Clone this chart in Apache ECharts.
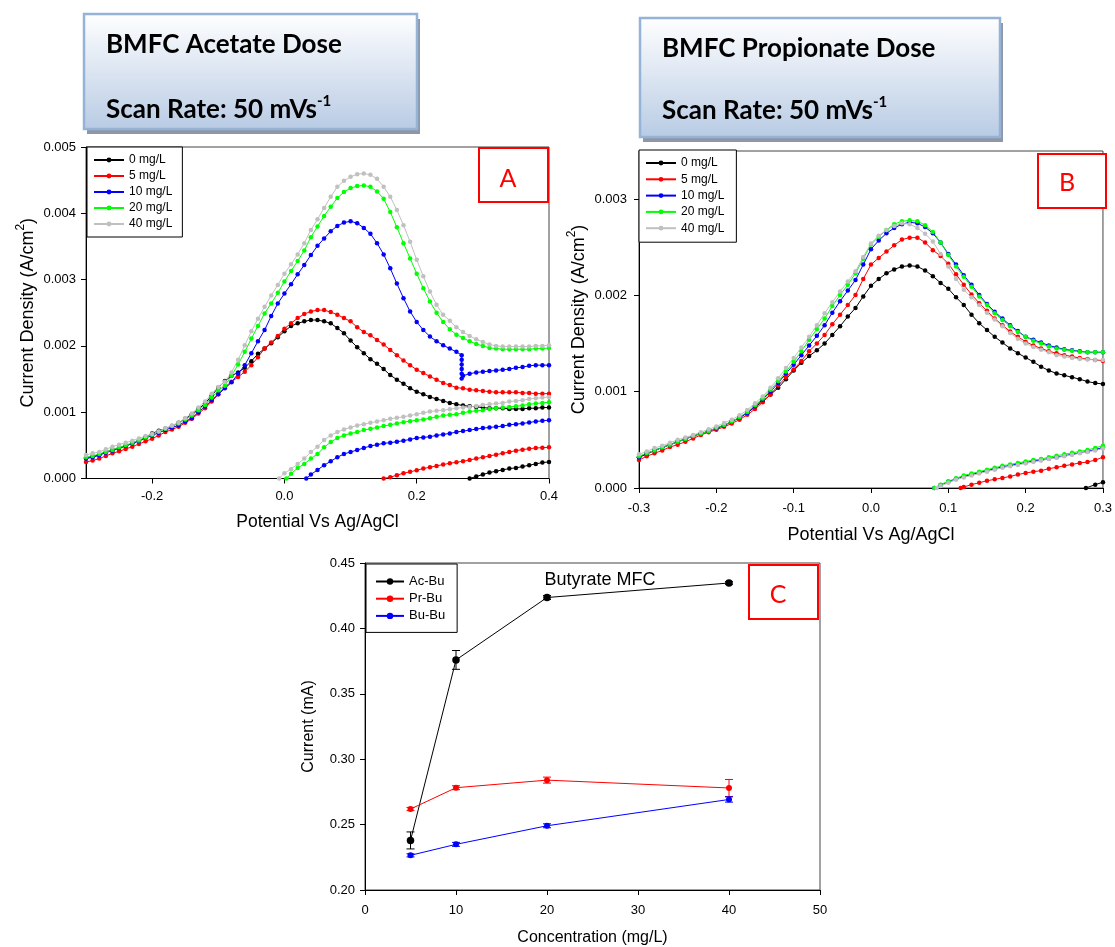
<!DOCTYPE html>
<html>
<head>
<meta charset="utf-8">
<script src="https://cdn.jsdelivr.net/npm/echarts@6/dist/echarts.min.js"></script>
<style>
  html, body { margin: 0; padding: 0; background: #fff; }
  #main { width: 1115px; height: 947px; }
</style>
</head>
<body>
<div id="main"></div>
<script>
// ---------------- Panel A: BMFC acetate dose, forward / reverse sweeps (A/cm2 vs V) ----------------
const potentialA = [
  -0.30,-0.29,-0.28,-0.27,-0.26,-0.25,-0.24,-0.23,-0.22,-0.21,
  -0.20,-0.19,-0.18,-0.17,-0.16,-0.15,-0.14,-0.13,-0.12,-0.11,
  -0.10,-0.09,-0.08,-0.07,-0.06,-0.05,-0.04,-0.03,-0.02,-0.01,
  0.00,0.01,0.02,0.03,0.04,0.05,0.06,0.07,0.08,0.09,
  0.10,0.11,0.12,0.13,0.14,0.15,0.16,0.17,0.18,0.19,
  0.20,0.21,0.22,0.23,0.24,0.25,0.26,0.27,0.28,0.29,
  0.30,0.31,0.32,0.33,0.34,0.35,0.36,0.37,0.38,0.39,
  0.40
];
const fwdA0 = [
  0.00031,0.00033,0.00036,0.00040,0.00043,0.00046,0.00049,0.00053,0.00057,0.00062,
  0.00068,0.00072,0.00075,0.00079,0.00084,0.00090,0.00097,0.00105,0.00113,0.00125,
  0.00137,0.00147,0.00155,0.00160,0.00167,0.00177,0.00188,0.00196,0.00204,0.00213,
  0.00222,0.00230,0.00234,0.00237,0.00239,0.00239,0.00237,0.00234,0.00227,0.00219,
  0.00208,0.00198,0.00189,0.00180,0.00173,0.00165,0.00156,0.00149,0.00143,0.00136,
  0.00131,0.00127,0.00123,0.00120,0.00117,0.00114,0.00112,0.00110,0.00109,0.00108,
  0.00107,0.00106,0.00106,0.00106,0.00105,0.00105,0.00105,0.00106,0.00106,0.00107,
  0.00107
];
const fwdA5 = [
  0.00025,0.00027,0.00030,0.00034,0.00038,0.00041,0.000445,0.00048,0.00052,0.00056,
  0.00060,0.00065,0.00070,0.00074,0.00078,0.00084,0.00090,0.00098,0.00106,0.00116,
  0.00127,0.00138,0.00146,0.00153,0.00161,0.00171,0.00183,0.00196,0.00205,0.00215,
  0.00226,0.00234,0.00242,0.00248,0.00252,0.00254,0.00254,0.00251,0.00247,0.00242,
  0.00237,0.00228,0.00221,0.00216,0.00209,0.00202,0.00194,0.00186,0.00178,0.00171,
  0.00164,0.00159,0.00154,0.00149,0.00144,0.00141,0.00137,0.00136,0.00134,0.00133,
  0.00132,0.00131,0.00130,0.00130,0.00130,0.00130,0.00129,0.00129,0.00128,0.00128,
  0.00128
];
const fwdA10 = [
  0.00030,0.00032,0.00035,0.00039,0.00042,0.00046,0.00049,0.00053,0.000565,0.00061,
  0.00065,0.00069,0.00073,0.00077,0.00080,0.00086,0.00091,0.00100,0.001085,0.00118,
  0.00127,0.00136,0.00145,0.00158,0.00171,0.00189,0.00207,0.00224,0.00245,0.00264,
  0.00279,0.00293,0.00308,0.00322,0.00337,0.00351,0.00362,0.00373,0.00381,0.00386,
  0.00388,0.00385,0.00378,0.00369,0.00355,0.00338,0.00317,0.00294,0.00272,0.00252,
  0.00236,0.00224,0.00214,0.00207,0.00201,0.00196,0.00191,0.00155,0.00158,0.00160,
  0.00161,0.00162,0.00163,0.00164,0.00165,0.00167,0.00168,0.00170,0.00171,0.00171,
  0.00171
];
// sudden drop of the 10 mg/L scan near 0.268 V
const stepA10 = [[0.268,0.00186],[0.268,0.00179],[0.268,0.00172],[0.268,0.00165],[0.268,0.00158],[0.268,0.00151]];
const fwdA20 = [
  0.00032,0.00034,0.00037,0.00040,0.00043,0.00047,0.00050,0.00054,0.000575,0.00062,
  0.00066,0.00071,0.00075,0.00079,0.00083,0.00089,0.00095,0.00103,0.00111,0.00122,
  0.00133,0.00140,0.00155,0.00172,0.00191,0.00211,0.00230,0.00249,0.00264,0.00280,
  0.00297,0.00313,0.00328,0.00344,0.00364,0.00380,0.00396,0.00410,0.00423,0.00432,
  0.00438,0.00441,0.00442,0.00440,0.00433,0.00422,0.00402,0.00379,0.00355,0.00332,
  0.00309,0.00287,0.00267,0.00250,0.00236,0.00225,0.00217,0.00212,0.00207,0.00203,
  0.00200,0.00197,0.00196,0.00195,0.00195,0.00195,0.00195,0.00195,0.00196,0.00196,
  0.00197
];
const fwdA40 = [
  0.000355,0.00038,0.00040,0.00044,0.00048,0.00051,0.00054,0.00057,0.000605,0.00064,
  0.00067,0.00071,0.000757,0.00080,0.00084,0.00091,0.00098,0.00107,0.00116,0.00128,
  0.00138,0.00146,0.00160,0.00179,0.00201,0.00222,0.00241,0.00259,0.00276,0.00292,
  0.00309,0.00323,0.00338,0.00355,0.00375,0.00391,0.00408,0.00425,0.00440,0.00449,
  0.00455,0.00459,0.00460,0.00458,0.00452,0.00440,0.00425,0.00405,0.00382,0.00357,
  0.00330,0.00305,0.00282,0.00262,0.00247,0.00238,0.00228,0.00221,0.00215,0.00210,
  0.00206,0.00202,0.00200,0.00199,0.00199,0.00199,0.00199,0.00199,0.00200,0.00200,
  0.00201
];
// reverse sweeps, [potential, current density], from 0.4 V back to where they leave the axis
const revA0 = [[0.40,0.00025],[0.39,0.00024],[0.38,0.00022],[0.37,0.00020],[0.36,0.00018],[0.35,0.00016],[0.34,0.00015],[0.33,0.00013],[0.32,0.00011],[0.31,0.00009],[0.30,0.00006],[0.29,0.00003],[0.28,0]];
const revA5 = [[0.40,0.00047],[0.39,0.000465],[0.38,0.00046],[0.37,0.00045],[0.36,0.000435],[0.35,0.00042],[0.34,0.00040],[0.33,0.00038],[0.32,0.00036],[0.31,0.00034],[0.30,0.00032],[0.29,0.00030],[0.28,0.00028],[0.27,0.00026],[0.26,0.000245],[0.25,0.00023],[0.24,0.00021],[0.23,0.00019],[0.22,0.00017],[0.21,0.00015],[0.20,0.000125],[0.19,0.00010],[0.18,0.00008],[0.17,0.00005],[0.16,0.00002],[0.15,0]];
const revA10 = [[0.40,0.00088],[0.39,0.00087],[0.38,0.00086],[0.37,0.000845],[0.36,0.00083],[0.35,0.00082],[0.34,0.00081],[0.33,0.00079],[0.32,0.00078],[0.31,0.00077],[0.30,0.00076],[0.29,0.000745],[0.28,0.00073],[0.27,0.000715],[0.26,0.00070],[0.25,0.00068],[0.24,0.000665],[0.23,0.00065],[0.22,0.00063],[0.21,0.00062],[0.20,0.00061],[0.19,0.00059],[0.18,0.00057],[0.17,0.000555],[0.16,0.00054],[0.15,0.00053],[0.14,0.00051],[0.13,0.00049],[0.12,0.00046],[0.11,0.00043],[0.10,0.00040],[0.09,0.00037],[0.08,0.00032],[0.07,0.00026],[0.06,0.00020],[0.05,0.00013],[0.04,0.00006],[0.033,0]];
const revA20 = [[0.40,0.00115],[0.39,0.00114],[0.38,0.00113],[0.37,0.00112],[0.36,0.00110],[0.35,0.00109],[0.34,0.00108],[0.33,0.00107],[0.32,0.00106],[0.31,0.00105],[0.30,0.00103],[0.29,0.00102],[0.28,0.00101],[0.27,0.00099],[0.26,0.00097],[0.25,0.00096],[0.24,0.00095],[0.23,0.00093],[0.22,0.00091],[0.21,0.00089],[0.20,0.00088],[0.19,0.000865],[0.18,0.00085],[0.17,0.00083],[0.16,0.00081],[0.15,0.00079],[0.14,0.00077],[0.13,0.00075],[0.12,0.00073],[0.11,0.00070],[0.10,0.00068],[0.09,0.00065],[0.08,0.00061],[0.07,0.00055],[0.06,0.00047],[0.05,0.00037],[0.04,0.00030],[0.03,0.00022],[0.02,0.00016],[0.01,0.00007],[0.003,0]];
const revA40 = [[0.40,0.00123],[0.39,0.00122],[0.38,0.00121],[0.37,0.00120],[0.36,0.00118],[0.35,0.00117],[0.34,0.00116],[0.33,0.00114],[0.32,0.00113],[0.31,0.00112],[0.30,0.00111],[0.29,0.001095],[0.28,0.00108],[0.27,0.00107],[0.26,0.00106],[0.25,0.001045],[0.24,0.00103],[0.23,0.00102],[0.22,0.00101],[0.21,0.00099],[0.20,0.00097],[0.19,0.00095],[0.18,0.00093],[0.17,0.000915],[0.16,0.00090],[0.15,0.00088],[0.14,0.00086],[0.13,0.00084],[0.12,0.00082],[0.11,0.00080],[0.10,0.00077],[0.09,0.00074],[0.08,0.00070],[0.07,0.00065],[0.06,0.00058],[0.05,0.00048],[0.04,0.00040],[0.03,0.00030],[0.02,0.00022],[0.01,0.00014],[0.00,0.00008],[-0.008,0]];

// ---------------- Panel B: BMFC propionate dose ----------------
const potentialB = [
  -0.30,-0.29,-0.28,-0.27,-0.26,-0.25,-0.24,-0.23,-0.22,-0.21,
  -0.20,-0.19,-0.18,-0.17,-0.16,-0.15,-0.14,-0.13,-0.12,-0.11,
  -0.10,-0.09,-0.08,-0.07,-0.06,-0.05,-0.04,-0.03,-0.02,-0.01,
  0.00,0.01,0.02,0.03,0.04,0.05,0.06,0.07,0.08,0.09,
  0.10,0.11,0.12,0.13,0.14,0.15,0.16,0.17,0.18,0.19,
  0.20,0.21,0.22,0.23,0.24,0.25,0.26,0.27,0.28,0.29,
  0.30
];
const fwdB0 = [
  0.00032,0.00035,0.00039,0.00042,0.00045,0.00048,0.00051,0.00054,0.000565,0.00059,
  0.00062,0.00065,0.00069,0.00073,0.00078,0.00084,0.00090,0.00097,0.00104,0.00113,
  0.00122,0.00130,0.00137,0.00143,0.00150,0.00159,0.00168,0.00178,0.00187,0.00199,
  0.00210,0.00217,0.00223,0.00227,0.00230,0.00231,0.00230,0.00226,0.00220,0.00213,
  0.00207,0.00198,0.00190,0.00180,0.00171,0.00164,0.00157,0.00151,0.00145,0.00140,
  0.001355,0.00131,0.00126,0.00122,0.00119,0.00117,0.00115,0.00113,0.001105,0.00109,
  0.00108
];
const fwdB5 = [
  0.00029,0.00033,0.00036,0.00039,0.000425,0.00045,0.00048,0.000515,0.00055,0.00058,
  0.000605,0.000635,0.00067,0.00071,0.00076,0.00082,0.00089,0.00097,0.001065,0.00115,
  0.00123,0.00132,0.00142,0.00150,0.00159,0.00170,0.00180,0.00190,0.002005,0.00217,
  0.00232,0.00239,0.002455,0.00252,0.00258,0.00260,0.00260,0.00255,0.00247,0.00241,
  0.00233,0.00222,0.00211,0.00201,0.00192,0.00184,0.00176,0.00169,0.001625,0.00157,
  0.00152,0.00148,0.00145,0.00142,0.00140,0.00138,0.001365,0.00135,0.00134,0.00133,
  0.00132
];
const fwdB10 = [
  0.00032,0.00036,0.00039,0.00042,0.00045,0.00048,0.00051,0.00054,0.000565,0.00059,
  0.00062,0.00065,0.00069,0.00073,0.00078,0.00085,0.00092,0.00100,0.00109,0.00119,
  0.00128,0.00138,0.00148,0.00158,0.00169,0.00182,0.00194,0.00205,0.00216,0.00232,
  0.00248,0.00257,0.002645,0.00270,0.00274,0.00276,0.00275,0.00271,0.002645,0.00255,
  0.00243,0.00232,0.00221,0.00211,0.002005,0.00191,0.00183,0.00176,0.00169,0.00163,
  0.00157,0.00154,0.00151,0.00148,0.00146,0.00144,0.00143,0.00142,0.00141,0.00141,
  0.00141
];
const fwdB20 = [
  0.00033,0.00036,0.00039,0.00042,0.00045,0.00048,0.00051,0.00054,0.000565,0.00059,
  0.000625,0.000655,0.00069,0.000735,0.00079,0.00086,0.00093,0.00102,0.00111,0.00121,
  0.00131,0.00142,0.00154,0.00165,0.00176,0.00189,0.002005,0.00211,0.00223,0.00238,
  0.00253,0.00261,0.00268,0.00274,0.00277,0.00278,0.00277,0.00273,0.00266,0.00255,
  0.00242,0.00230,0.002195,0.00209,0.00199,0.00190,0.001815,0.001745,0.00168,0.00162,
  0.00157,0.00153,0.00150,0.00147,0.00145,0.001435,0.001425,0.001415,0.00141,0.00141,
  0.00141
];
const fwdB40 = [
  0.00035,0.00038,0.000415,0.00044,0.00047,0.00050,0.000525,0.00055,0.00058,0.00061,
  0.00064,0.000675,0.00071,0.000755,0.00081,0.00088,0.00095,0.00104,0.00114,0.001245,
  0.00135,0.00146,0.00157,0.00169,0.001815,0.00193,0.00204,0.002145,0.00225,0.00240,
  0.00254,0.00262,0.00268,0.00272,0.00275,0.00274,0.00270,0.00264,0.00256,0.00243,
  0.00230,0.00217,0.00206,0.00198,0.00190,0.00182,0.00175,0.00168,0.00161,0.00155,
  0.00150,0.001465,0.001435,0.00141,0.00138,0.001365,0.00135,0.00134,0.001335,0.00133,
  0.00133
];
const revB0 = [[0.30,0.00006],[0.29,0.000035],[0.278,0]];
const revB5 = [[0.30,0.00032],[0.29,0.00029],[0.28,0.00027],[0.27,0.00026],[0.26,0.000245],[0.25,0.00023],[0.24,0.000215],[0.23,0.00020],[0.22,0.00018],[0.21,0.00017],[0.20,0.000155],[0.19,0.00014],[0.18,0.00012],[0.17,0.000105],[0.16,0.00009],[0.15,0.000075],[0.14,0.000055],[0.13,0.000035],[0.12,0.00001],[0.116,0]];
const revB10 = [[0.30,0.00042],[0.29,0.00040],[0.28,0.00038],[0.27,0.000365],[0.26,0.00035],[0.25,0.000335],[0.24,0.00032],[0.23,0.000305],[0.22,0.00029],[0.21,0.00028],[0.20,0.000265],[0.19,0.00025],[0.18,0.000235],[0.17,0.00022],[0.16,0.00020],[0.15,0.00018],[0.14,0.00016],[0.13,0.00014],[0.12,0.00012],[0.11,0.000095],[0.10,0.000065],[0.09,0.00003],[0.082,0]];
const revB20 = [[0.30,0.00044],[0.29,0.000415],[0.28,0.000395],[0.27,0.00038],[0.26,0.000365],[0.25,0.00035],[0.24,0.000335],[0.23,0.00032],[0.22,0.00030],[0.21,0.00029],[0.20,0.000275],[0.19,0.00026],[0.18,0.000245],[0.17,0.00023],[0.16,0.00021],[0.15,0.00019],[0.14,0.00017],[0.13,0.00015],[0.12,0.00013],[0.11,0.00010],[0.10,0.00007],[0.09,0.000035],[0.082,0]];
const revB40 = [[0.30,0.00041],[0.29,0.00039],[0.28,0.000375],[0.27,0.00036],[0.26,0.000345],[0.25,0.00033],[0.24,0.000315],[0.23,0.00030],[0.22,0.000285],[0.21,0.00027],[0.20,0.000255],[0.19,0.00024],[0.18,0.000225],[0.17,0.00021],[0.16,0.00019],[0.15,0.00017],[0.14,0.00015],[0.13,0.00013],[0.12,0.00011],[0.11,0.000085],[0.10,0.000055],[0.09,0.00002],[0.085,0]];

// ---------------- Panel C: Butyrate MFC, current vs. dose (mean and error) ----------------
const concC = [5, 10, 20, 40];
const acBu = [0.2379, 0.3759, 0.4236, 0.4347];
const acBuErr = [0.0065, 0.0072, 0.0015, 0.0010];
const prBu = [0.2619, 0.2782, 0.2840, 0.2780];
const prBuErr = [0.0012, 0.0015, 0.0023, 0.0065];
const buBu = [0.2265, 0.2349, 0.2491, 0.2692];
const buBuErr = [0.0012, 0.0015, 0.0015, 0.0020];

// ---------------- labels and ticks ----------------
const doseNames = ['0 mg/L', '5 mg/L', '10 mg/L', '20 mg/L', '40 mg/L'];
const substrateNames = ['Ac-Bu', 'Pr-Bu', 'Bu-Bu'];
const tickAX = [-0.2, 0.0, 0.2, 0.4];
const tickAY = [0, 0.001, 0.002, 0.003, 0.004, 0.005];
const tickBX = [-0.3, -0.2, -0.1, 0.0, 0.1, 0.2, 0.3];
const tickBY = [0, 0.001, 0.002, 0.003];
const tickCX = [0, 10, 20, 30, 40, 50];
const tickCY = [0.20, 0.25, 0.30, 0.35, 0.40, 0.45];

// ---------------- styling ----------------
const FONT = "'Liberation Sans', Arial, Helvetica, sans-serif";
const TITLE_FONT = "Lato, 'Open Sans', sans-serif";
const doseColors = ['#000000', '#ff0000', '#0000ff', '#00ff00', '#c0c0c0'];
const substrateColors = ['#000000', '#ff0000', '#0000ff'];

const pair = (xs, ys) => xs.map((x, i) => [x, ys[i]]);

function cvSeries(name, color, data, idx) {
  return {
    type: 'line', name, data, xAxisIndex: idx, yAxisIndex: idx,
    symbol: 'circle', symbolSize: 4.5, showSymbol: true,
    itemStyle: { color }, lineStyle: { color, width: 1 },
    clip: true, animation: false, silent: true, z: 2
  };
}

const bluePts = pair(potentialA, fwdA10);
bluePts.splice(potentialA.indexOf(0.27), 0, ...stepA10);

const fwdA = [pair(potentialA, fwdA0), pair(potentialA, fwdA5), bluePts, pair(potentialA, fwdA20), pair(potentialA, fwdA40)];
const revA = [revA0, revA5, revA10, revA20, revA40];
const fwdB = [fwdB0, fwdB5, fwdB10, fwdB20, fwdB40].map(ys => pair(potentialB, ys));
const revB = [revB0, revB5, revB10, revB20, revB40];

const series = [];
doseNames.forEach((n, i) => {
  series.push(cvSeries(n, doseColors[i], fwdA[i], 0));
  series.push(cvSeries(n, doseColors[i], revA[i], 0));
});
doseNames.forEach((n, i) => {
  series.push(cvSeries(n, doseColors[i], fwdB[i], 1));
  series.push(cvSeries(n, doseColors[i], revB[i], 1));
});

const cMeans = [acBu, prBu, buBu];
const cErrs = [acBuErr, prBuErr, buBuErr];
const cSizes = [7.5, 6, 6];
substrateNames.forEach((n, i) => {
  const color = substrateColors[i];
  series.push({
    type: 'custom', xAxisIndex: 2, yAxisIndex: 2, z: 1, silent: true, animation: false,
    data: concC.map((c, k) => [c, cMeans[i][k] - cErrs[i][k], cMeans[i][k] + cErrs[i][k]]),
    renderItem: (params, api) => {
      const lo = api.coord([api.value(0), api.value(1)]);
      const hi = api.coord([api.value(0), api.value(2)]);
      const w = 4;
      const st = { stroke: color, lineWidth: 1 };
      return {
        type: 'group', children: [
          { type: 'line', shape: { x1: lo[0], y1: lo[1], x2: hi[0], y2: hi[1] }, style: st },
          { type: 'line', shape: { x1: lo[0] - w, y1: lo[1], x2: lo[0] + w, y2: lo[1] }, style: st },
          { type: 'line', shape: { x1: hi[0] - w, y1: hi[1], x2: hi[0] + w, y2: hi[1] }, style: st }
        ]
      };
    }
  });
  series.push({
    type: 'line', name: n, xAxisIndex: 2, yAxisIndex: 2, data: pair(concC, cMeans[i]),
    symbol: 'circle', symbolSize: cSizes[i], showSymbol: true,
    itemStyle: { color }, lineStyle: { color, width: 1 }, animation: false, silent: true, z: 3
  });
});

// ---------------- axes ----------------
function axisBase(gridIndex, ticks, fmt, margin) {
  return {
    gridIndex, type: 'value',
    axisLine: { show: true, onZero: false, lineStyle: { color: '#000', width: 1 } },
    axisTick: { show: true, customValues: ticks, length: 5, lineStyle: { color: '#000', width: 1 } },
    axisLabel: { customValues: ticks, formatter: fmt, color: '#000', fontSize: 13, fontFamily: FONT, margin },
    splitLine: { show: false },
    nameLocation: 'middle'
  };
}
const nameStyle = (size) => ({ fontSize: size, fontFamily: FONT, color: '#000' });
const supNameStyle = {
  fontSize: 18, fontFamily: FONT, color: '#000',
  rich: {
    t: { fontSize: 18, fontFamily: FONT, color: '#000', lineHeight: 26 },
    s: { fontSize: 12, fontFamily: FONT, color: '#000', lineHeight: 13, verticalAlign: 'top' }
  }
};
const cdName = '{t|Current Density (A/cm}{s|2}{t|)}';

const xAxis = [
  Object.assign(axisBase(0, tickAX, v => v.toFixed(1), 11), { min: -0.3, max: 0.4, name: 'Potential Vs Ag/AgCl', nameGap: 35, nameTextStyle: nameStyle(17.5) }),
  Object.assign(axisBase(1, tickBX, v => v.toFixed(1), 14), { min: -0.3, max: 0.3, name: 'Potential Vs Ag/AgCl', nameGap: 38, nameTextStyle: nameStyle(18) }),
  Object.assign(axisBase(2, tickCX, v => String(v), 14), { min: 0, max: 50, name: 'Concentration (mg/L)', nameGap: 40, nameTextStyle: nameStyle(16) })
];
const yAxis = [
  Object.assign(axisBase(0, tickAY, v => v.toFixed(3), 10), { min: 0, max: 0.005, name: cdName, nameGap: 45, nameTextStyle: supNameStyle }),
  Object.assign(axisBase(1, tickBY, v => v.toFixed(3), 12), { min: 0, max: 0.0035, name: cdName, nameGap: 47, nameTextStyle: supNameStyle }),
  Object.assign(axisBase(2, tickCY, v => v.toFixed(2), 10), { min: 0.2, max: 0.45, name: 'Current (mA)', nameGap: 48, nameTextStyle: nameStyle(16) })
];

const gridStyle = { show: true, borderColor: '#444', borderWidth: 1, containLabel: false };
const grid = [
  Object.assign({ left: 86, top: 147, width: 463, height: 331.5 }, gridStyle),
  Object.assign({ left: 639, top: 151, width: 468, height: 337 }, gridStyle),
  Object.assign({ left: 365, top: 563, width: 455, height: 328 }, gridStyle)
];

// ---------------- legends ----------------
const legendBase = {
  orient: 'vertical', selectedMode: false,
  borderColor: '#000', borderWidth: 1, backgroundColor: '#fff', z: 6,
  textStyle: { fontSize: 12, fontFamily: FONT, color: '#000' }
};
const legend = [
  Object.assign({}, legendBase, { data: doseNames, left: 87, top: 147, itemWidth: 30, itemHeight: 6, itemGap: 4, padding: [7, 10, 7, 6] }),
  Object.assign({}, legendBase, { data: doseNames, left: 639, top: 150, itemWidth: 30, itemHeight: 6, itemGap: 4.3, padding: [7, 12, 8, 6] }),
  Object.assign({}, legendBase, { data: substrateNames, left: 366, top: 564, itemWidth: 28, itemHeight: 8, itemGap: 4.2, padding: [11, 12, 10, 9],
    textStyle: { fontSize: 13, fontFamily: FONT, color: '#000' } })
];

// ---------------- headline boxes and panel letters ----------------
const panelFill = { type: 'linear', x: 0, y: 0, x2: 0, y2: 1, colorStops: [{ offset: 0, color: '#ffffff' }, { offset: 1, color: '#b8cbe4' }] };
function headline(x, y, w, h, line1, y1, y2) {
  return [
    { type: 'rect', silent: true, z: 0, shape: { x: x + 3, y: y + 5, width: w, height: h }, style: { fill: '#8f96a6' } },
    { type: 'rect', silent: true, z: 1, shape: { x, y, width: w, height: h }, style: { fill: panelFill, stroke: '#95b3d7', lineWidth: 2.5 } },
    { type: 'text', silent: true, z: 2, x: x + 22, y: y1, style: { text: line1, font: 'bold 26px ' + TITLE_FONT, fill: '#000', verticalAlign: 'middle' } },
    { type: 'text', silent: true, z: 2, x: x + 22, y: y2, style: {
        text: '{t|Scan Rate: 50 mVs}{s|-1}', verticalAlign: 'middle', fill: '#000',
        rich: {
          t: { fontSize: 26, fontWeight: 'bold', fontFamily: TITLE_FONT, fill: '#000', lineHeight: 32 },
          s: { fontSize: 15, fontWeight: 'bold', fontFamily: TITLE_FONT, fill: '#000', lineHeight: 17, verticalAlign: 'top' }
        } } }
  ];
}
function letterBox(x, y, w, h, letter, lx, ly) {
  return [
    { type: 'rect', silent: true, z: 50, shape: { x, y, width: w, height: h }, style: { fill: '#fff', stroke: '#ff0000', lineWidth: 2 } },
    { type: 'text', silent: true, z: 51, x: lx, y: ly, style: { text: letter, font: '25px ' + TITLE_FONT, fill: '#ff0000', align: 'center', verticalAlign: 'middle' } }
  ];
}
const graphic = [].concat(
  headline(84, 14, 333, 115, 'BMFC Acetate Dose', 45, 110),
  headline(640, 18, 360, 119, 'BMFC Propionate Dose', 49, 111),
  letterBox(479, 148, 69, 54, 'A', 508, 179),
  letterBox(1038, 154, 68, 54, 'B', 1067, 183),
  letterBox(749, 565, 69, 54, 'C', 778, 595),
  [{ type: 'text', silent: true, z: 20, x: 600, y: 580, style: { text: 'Butyrate MFC', font: '18px ' + FONT, fill: '#000', align: 'center', verticalAlign: 'middle' } }]
);

const chart = echarts.init(document.getElementById('main'), null, { renderer: 'canvas' });
chart.setOption({
  backgroundColor: '#fff',
  animation: false,
  grid, xAxis, yAxis, legend, series, graphic
});
</script>
</body>
</html>
